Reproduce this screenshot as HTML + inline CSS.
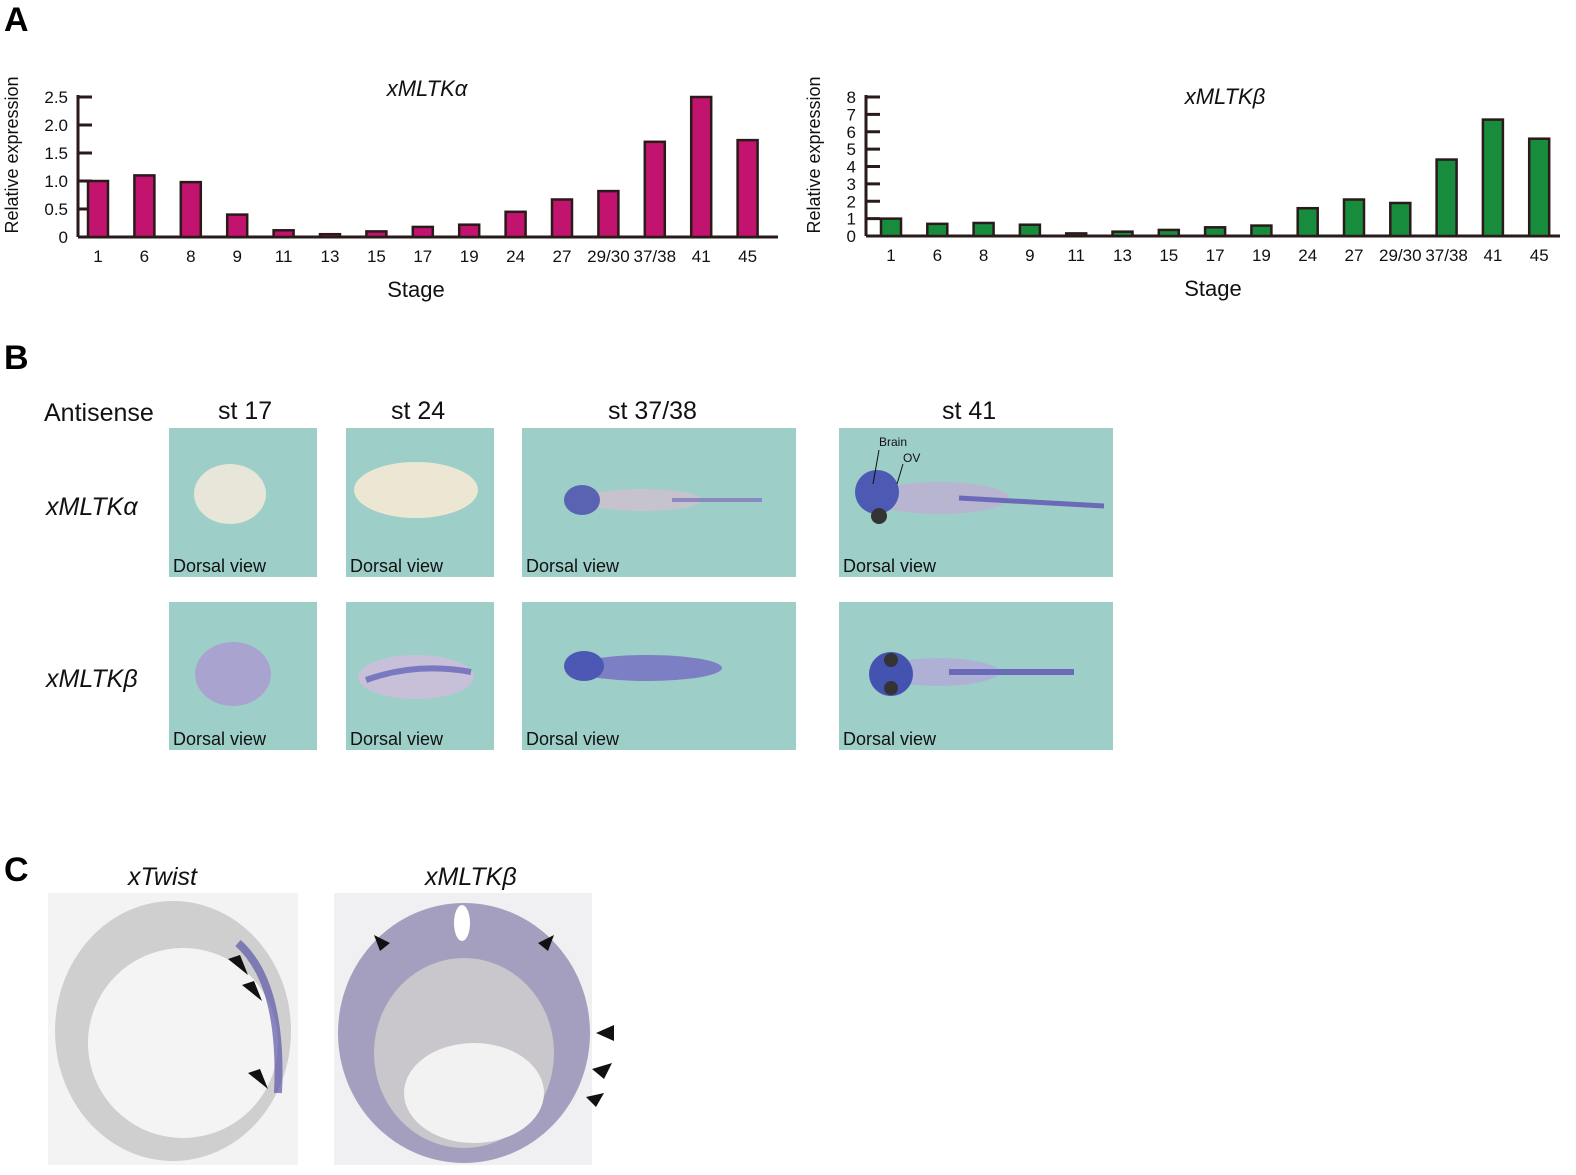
<!DOCTYPE html>
<html style="width:1576px;height:1175px;overflow:hidden"><head><meta charset="utf-8">
<style>
body{margin:0;width:1576px;height:1175px;background:#fff;position:relative;overflow:hidden;font-family:"Liberation Sans",sans-serif}
.abs{position:absolute}
.lbl{font-weight:bold;font-size:34px;line-height:40px}
.img{position:absolute;background:#9dcfc8;overflow:hidden}
.dv{position:absolute;left:4px;bottom:0px;font-size:18px;color:#111;line-height:22px}
.hdr{position:absolute;font-size:25px;color:#111;line-height:30px}
</style></head>
<body>
<div class="abs lbl" style="left:4px;top:0px">A</div>
<div class="abs lbl" style="left:4px;top:338px">B</div>
<div class="abs lbl" style="left:4px;top:850px">C</div>

<svg class="abs" style="left:0;top:0" width="1576" height="320" id="charts"></svg>

<div class="hdr" style="left:44px;top:398px">Antisense</div>
<div class="hdr" style="left:218px;top:396px">st 17</div>
<div class="hdr" style="left:391px;top:396px">st 24</div>
<div class="hdr" style="left:608px;top:396px">st 37/38</div>
<div class="hdr" style="left:942px;top:396px">st 41</div>
<div class="hdr" style="left:46px;top:492px;font-style:italic">xMLTKα</div>
<div class="hdr" style="left:46px;top:664px;font-style:italic">xMLTKβ</div>

<div class="img" style="left:169px;top:428px;width:148px;height:149px">
<svg width="148" height="149"><ellipse cx="61" cy="66" rx="36" ry="30" fill="#e8e6d8"/></svg><div class="dv">Dorsal view</div></div>
<div class="img" style="left:346px;top:428px;width:148px;height:149px">
<svg width="148" height="149"><ellipse cx="70" cy="62" rx="62" ry="28" fill="#ebe7d3"/></svg><div class="dv">Dorsal view</div></div>
<div class="img" style="left:522px;top:428px;width:274px;height:149px">
<svg width="274" height="149"><ellipse cx="120" cy="72" rx="60" ry="11" fill="#c6c3cc"/><ellipse cx="60" cy="72" rx="18" ry="15" fill="#5a63b2"/><path d="M150 72 L240 72" stroke="#8a8ac0" stroke-width="4"/></svg><div class="dv">Dorsal view</div></div>
<div class="img" style="left:839px;top:428px;width:274px;height:149px">
<svg width="274" height="149"><ellipse cx="100" cy="70" rx="70" ry="16" fill="#b8b5d0"/><ellipse cx="38" cy="64" rx="22" ry="22" fill="#4c5ab4"/><circle cx="40" cy="88" r="8" fill="#333"/><path d="M120 70 L265 78" stroke="#6a6ab8" stroke-width="5"/><text x="40" y="18" font-size="12" font-family="Liberation Sans" fill="#111">Brain</text><text x="64" y="34" font-size="12" font-family="Liberation Sans" fill="#111">OV</text><path d="M40 22 L34 56 M64 36 L58 56" stroke="#111"/></svg><div class="dv">Dorsal view</div></div>

<div class="img" style="left:169px;top:602px;width:148px;height:148px">
<svg width="148" height="148"><ellipse cx="64" cy="72" rx="38" ry="32" fill="#a9a4cf"/></svg><div class="dv">Dorsal view</div></div>
<div class="img" style="left:346px;top:602px;width:148px;height:148px">
<svg width="148" height="148"><ellipse cx="70" cy="75" rx="58" ry="22" fill="#c7c0d8"/><path d="M20 78 Q70 60 125 70" stroke="#7a78c0" stroke-width="6" fill="none"/></svg><div class="dv">Dorsal view</div></div>
<div class="img" style="left:522px;top:602px;width:274px;height:148px">
<svg width="274" height="148"><ellipse cx="125" cy="66" rx="75" ry="13" fill="#7c7fc4"/><ellipse cx="62" cy="64" rx="20" ry="15" fill="#4c58b4"/></svg><div class="dv">Dorsal view</div></div>
<div class="img" style="left:839px;top:602px;width:274px;height:148px">
<svg width="274" height="148"><ellipse cx="100" cy="70" rx="60" ry="14" fill="#aeb0d6"/><ellipse cx="52" cy="72" rx="22" ry="22" fill="#4452b0"/><circle cx="52" cy="58" r="7" fill="#333"/><circle cx="52" cy="86" r="7" fill="#333"/><path d="M110 70 L235 70" stroke="#6a6ab8" stroke-width="6"/></svg><div class="dv">Dorsal view</div></div>

<div class="hdr" style="left:128px;top:862px;font-style:italic">xTwist</div>
<div class="hdr" style="left:425px;top:862px;font-style:italic">xMLTKβ</div>
<svg class="abs" style="left:48px;top:893px" width="255" height="273">
<rect x="0" y="0" width="250" height="272" fill="#f3f3f3"/>
<ellipse cx="125" cy="138" rx="118" ry="130" fill="#cfcfcf"/>
<ellipse cx="135" cy="150" rx="95" ry="95" fill="#f4f4f4"/>
<path d="M190 50 Q235 90 230 200" stroke="#5a55a8" stroke-width="8" fill="none" opacity="0.7"/>
<polygon points="180,66 200,82 192,62" fill="#111"/>
<polygon points="194,92 214,108 206,88" fill="#111"/>
<polygon points="200,180 220,196 212,176" fill="#111"/>
</svg>
<svg class="abs" style="left:334px;top:893px" width="290" height="273">
<rect x="0" y="0" width="258" height="272" fill="#f0f0f2"/>
<ellipse cx="130" cy="140" rx="126" ry="130" fill="#a59fbf"/>
<ellipse cx="130" cy="160" rx="90" ry="95" fill="#c9c7cc"/>
<ellipse cx="140" cy="200" rx="70" ry="50" fill="#f2f2f2"/>
<ellipse cx="128" cy="30" rx="8" ry="18" fill="#fff"/>
<polygon points="40,42 56,50 46,58" fill="#111"/><polygon points="220,42 204,50 214,58" fill="#111"/>
<polygon points="280,132 262,140 280,148" fill="#111"/><polygon points="278,170 258,176 270,186" fill="#111"/><polygon points="270,200 252,204 262,214" fill="#111"/>
</svg>

<script>
const stages=["1","6","8","9","11","13","15","17","19","24","27","29/30","37/38","41","45"];
const alphaVals=[1.0,1.1,0.98,0.4,0.12,0.05,0.1,0.18,0.22,0.45,0.67,0.82,1.7,2.5,1.73];
const betaVals=[1.0,0.7,0.75,0.65,0.15,0.25,0.35,0.5,0.6,1.6,2.1,1.9,4.4,6.7,5.6];
const alphaTicks=["0","0.5","1.0","1.5","2.0","2.5"];
const alphaTickVals=[0,0.5,1,1.5,2,2.5];
const betaTicks=["0","1","2","3","4","5","6","7","8"];
const betaTickVals=[0,1,2,3,4,5,6,7,8];
const svg=document.getElementById('charts');
const NS='http://www.w3.org/2000/svg';
function mk(t,a){const e=document.createElementNS(NS,t);for(const k in a)e.setAttribute(k,a[k]);svg.appendChild(e);return e;}
function chart(o){
  const y=v=>o.y0-(v/o.max)*(o.y0-o.yTop);
  const x=i=>o.x1+i*o.step;
  const ax=mk('line',{x1:o.ax,y1:o.yTop-2,x2:o.ax,y2:o.y0,stroke:'#2a1a1a','stroke-width':3});
  
  const bl=mk('line',{x1:o.ax,y1:o.y0,x2:o.xEnd,y2:o.y0,stroke:'#2a1a1a','stroke-width':3});
  
  o.tv.forEach((v,i)=>{
    const t=mk('line',{x1:o.ax,y1:y(v),x2:o.ax+14,y2:y(v),stroke:'#2a1a1a','stroke-width':3});
    
    const tx=mk('text',{x:o.ax-10,y:y(v)+6,'text-anchor':'end','font-size':17,'font-family':'Liberation Sans',fill:'#111'});
    tx.textContent=o.tl[i];
  });
  o.vals.forEach((v,i)=>{
    const r=mk('rect',{x:x(i)-10,y:y(v),width:20,height:o.y0-y(v),fill:o.color,stroke:'#2a1a1a','stroke-width':2.5});
    
    const tx=mk('text',{x:x(i),y:o.y0+25,'text-anchor':'middle','font-size':17,'font-family':'Liberation Sans',fill:'#111'});
    tx.textContent=stages[i];
  });
  const st=mk('text',{x:o.xt,y:o.y0+60,'text-anchor':'middle','font-size':22,'font-family':'Liberation Sans',fill:'#111'});
  st.textContent='Stage';
  const yl=mk('text',{x:0,y:0,'text-anchor':'middle','font-size':18,'font-family':'Liberation Sans',fill:'#111',transform:`translate(${o.ylx},${o.yly}) rotate(-90)`});
  yl.textContent='Relative expression';
  const ti=mk('text',{x:o.tx,y:o.ty,'text-anchor':'middle','font-size':22,'font-style':'italic','font-family':'Liberation Sans',fill:'#111'});
  ti.textContent=o.title;
}
chart({id:'alpha',vals:alphaVals,tv:alphaTickVals,tl:alphaTicks,max:2.5,ax:78,yTop:97,y0:237,x1:98,step:46.4,xEnd:778,color:'#c2136f',xt:416,ylx:18,yly:155,tx:427,ty:96,title:'xMLTKα'});
chart({id:'beta',vals:betaVals,tv:betaTickVals,tl:betaTicks,max:8,ax:866,yTop:97,y0:236,x1:891,step:46.3,xEnd:1560,color:'#178c3c',xt:1213,ylx:820,yly:155,tx:1225,ty:104,title:'xMLTKβ'});
</script>
</body></html>
